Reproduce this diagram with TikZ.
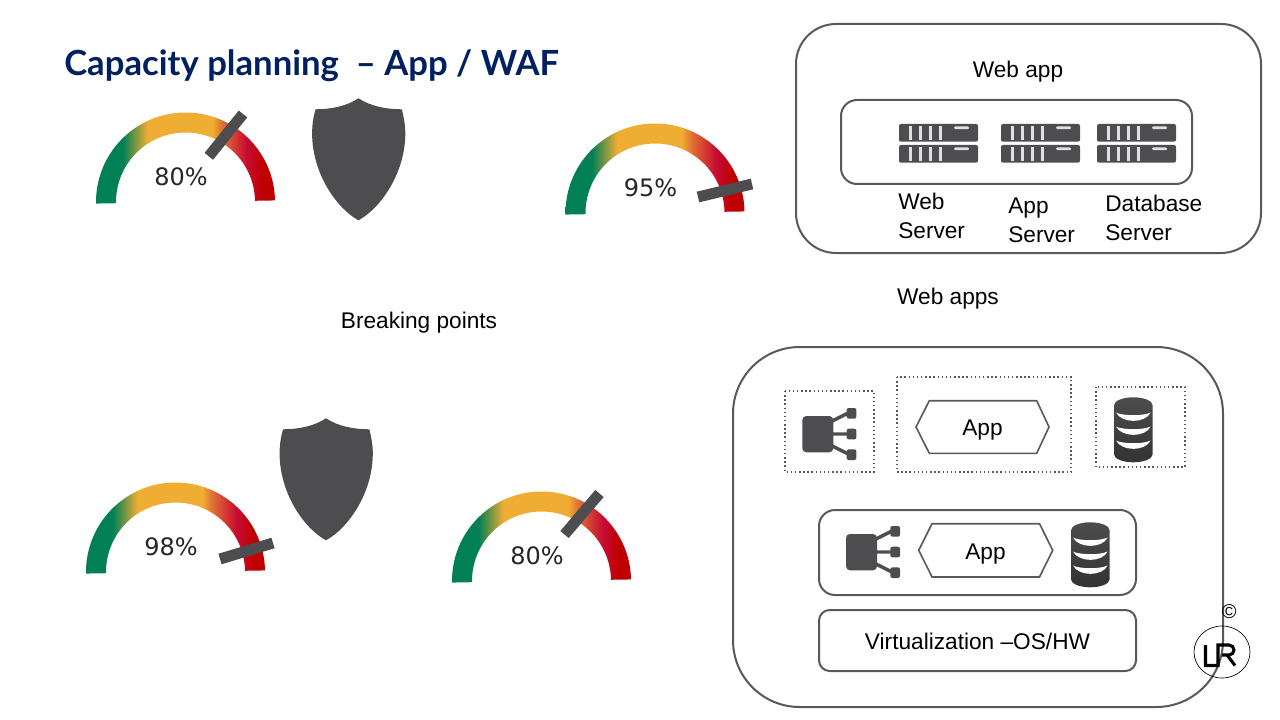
\documentclass[tikz,border=0pt]{standalone}
\usepackage{fontspec}
\setmainfont{Liberation Sans}
\newfontfamily\titlefont{Lato}
\newfontfamily\gaugefont{DejaVu Sans}
\usetikzlibrary{calc}
\definecolor{titleblue}{HTML}{002060}
\definecolor{icongrey}{HTML}{4D4D4F}
\definecolor{boxgrey}{HTML}{595959}
\pgfdeclarehorizontalshading{gaugeshade}{100bp}{
  rgb(0bp)=(0,0.5,0.33);
  rgb(32.5bp)=(0,0.5,0.33);
  rgb(39.5bp)=(0.94,0.68,0.2);
  rgb(57.5bp)=(0.94,0.68,0.2);
  rgb(60bp)=(0.88,0.45,0.2);
  rgb(67bp)=(0.78,0.04,0.2);
  rgb(71.5bp)=(0.75,0,0);
  rgb(100bp)=(0.75,0,0)}
\pgfdeclareverticalshading{dbshade}{100bp}{
  rgb(0bp)=(0.2,0.2,0.2);
  rgb(25bp)=(0.2,0.2,0.2);
  rgb(75bp)=(0.3,0.3,0.3);
  rgb(100bp)=(0.3,0.3,0.3)}
\tikzset{
  boxline/.style={draw=boxgrey, line width=1.5pt},
  dotbox/.style={draw=boxgrey, line width=1.1pt, dotted},
  hexline/.style={draw=boxgrey, line width=1.2pt},
  lbl/.style={font=\fontsize{17}{21.75}\selectfont, align=left, anchor=west, inner sep=0pt},
  ctr/.style={font=\fontsize{17}{20}\selectfont, inner sep=0pt},
  needle/.style={draw=icongrey, line width=8.2pt},
}
% gauge: centre x, centre y, needle inner and outer end, text
\newcommand{\gauge}[6]{
  \begin{scope}[shift={(#1,#2)}]
    \begin{scope}
      \clip (179:89.5) arc (179:359:89.5) -- (359:69.5) arc (359:179:69.5) -- cycle;
      \shade[shading=gaugeshade] (-90,-92) rectangle (90,3);
    \end{scope}
    \coordinate (#6a) at #3;
    \coordinate (#6b) at #4;
    \draw[needle] (#6a) -- (#6b);
    \node[font=\gaugefont\fontsize{18}{18}\selectfont, text=black!85, inner sep=0pt] (#6) at (-4.5,-25.5) {#5};
  \end{scope}
}
% shield from its top point
\newcommand{\shield}[2]{
  \fill[icongrey, shift={(#1,#2)}] (0,0) .. controls (12,8) and (28,11) .. (43.4,11)
    .. controls (45,18) and (46.8,26) .. (46.8,35) .. controls (46.8,75) and (22,110) .. (0,122)
    .. controls (-22,110) and (-46.4,75) .. (-46.4,35) .. controls (-46.4,26) and (-45,18) .. (-43,11)
    .. controls (-28,11) and (-12,8) .. (0,0) -- cycle;
}
% one server unit
\newcommand{\rackunit}[2]{
  \begin{scope}[shift={(#1,#2)}]
    \fill[icongrey, rounded corners=1.5pt] (0,0) rectangle (79,17.7);
    \foreach \sx in {9.5,19.5,29.5,39.5}
      \fill[black!12] (\sx,2) rectangle ++(3,13.7);
    \fill[black!12, rounded corners=0.9pt] (55,2.5) rectangle (70,5.2);
  \end{scope}
}
\newcommand{\server}[2]{\rackunit{#1}{#2}\rackunit{#1}{#2+21}}
% fan-out icon
\newcommand{\fanicon}[2]{
  \begin{scope}[shift={(#1,#2)}]
    \draw[icongrey, line width=2.6pt] (30,13) -- (46,5) (30,26) -- (46,26) (30,38) -- (46,46);
    \fill[icongrey, rounded corners=3pt] (0,8) rectangle (31,44.3);
    \foreach \sy in {0,20.7,41.3}
      \fill[icongrey, rounded corners=1.5pt] (44.4,\sy) rectangle ++(9.6,10.7);
  \end{scope}
}
% database cylinder
\newcommand{\dbicon}[2]{
  \begin{scope}[shift={(#1,#2)}]
    \shade[shading=dbshade] (0,8) arc (180:360:19.3 and 8) -- (38.6,57) arc (0:180:19.3 and 8) -- cycle;
    \foreach \sy in {15.3,29.3,43.3}
      \fill[white] (2,\sy) .. controls (10,\sy+3.5) and (28.6,\sy+3.5) .. (36.6,\sy)
        .. controls (31,\sy+11) and (8,\sy+11) .. (2,\sy) -- cycle;
  \end{scope}
}
\begin{document}
\begin{tikzpicture}[x=0.75pt, y=-0.75pt]
  \useasboundingbox (0,0) rectangle (1280,720);
  \fill[white] (0,0) rectangle (1280,720);

  % title
  \node[font=\titlefont\bfseries\fontsize{26}{26}\selectfont, text=titleblue, anchor=west, inner sep=0pt] (title) at (64,66) {Capacity planning\ \ – App / WAF};

  % gauges
  \gauge{185.5}{202}{(23.3,-45.7)}{(57.5,-88)}{80\%}{gaugeA}
  \gauge{655}{213}{(43,-16)}{(97,-29)}{95\%}{gaugeB}
  \gauge{175.5}{572}{(44.5,-13)}{(97.5,-29)}{98\%}{gaugeC}
  \gauge{541.5}{581}{(23,-46.5)}{(58,-87.5)}{80\%}{gaugeD}
  \shield{358.5}{98.3}
  \shield{326}{418.3}

  \node[ctr] (breaking) at (419,322.5) {Breaking points};

  % web app
  \draw[boxline, rounded corners=30pt] (796,24) rectangle (1261,253);
  \draw[boxline, rounded corners=12pt] (841,100) rectangle (1192,184);
  \node[ctr] (webapp) at (1018,71.5) {Web app};
  \server{899}{124}
  \server{1001}{124}
  \server{1097}{124}
  \node[lbl] (websrv) at (898,215.5) {Web\\Server};
  \node[lbl] (appsrv) at (1008,220) {App\\Server};
  \node[lbl] (dbsrv) at (1105,217.5) {Database\\Server};
  \node[ctr] (webapps) at (948,298.5) {Web apps};

  % bottom stack
  \draw[boxline, rounded corners=50pt] (733,347) rectangle (1223,707);
  \draw[dotbox] (785,391) rectangle (874,472);
  \draw[dotbox] (897,377) rectangle (1071,472);
  \draw[dotbox] (1096,387) rectangle (1185,467);
  \fanicon{802.3}{408}
  \draw[hexline] (916,427) -- (929.3,400.7) -- (1036.7,400.7) -- (1049,427) -- (1036.7,453.3) -- (929.3,453.3) -- cycle;
  \node[ctr] (appA) at (982.5,430.5) {App};
  \dbicon{1114}{397.3}

  \draw[boxline, rounded corners=12pt] (819,510) rectangle (1136,595);
  \fanicon{846}{526}
  \draw[hexline] (918.7,550.3) -- (932,523.7) -- (1039.5,523.7) -- (1052.7,550.3) -- (1039.5,577) -- (932,577) -- cycle;
  \node[ctr] (appB) at (985.5,554.5) {App};
  \dbicon{1071}{522.3}

  \draw[boxline, rounded corners=8pt] (819,610) rectangle (1136,671);
  \node[ctr] (virt) at (977.5,641) {Virtualization –OS/HW};

  % logo
  \draw[black, line width=0.5pt] (1222,652) ellipse (28 and 26);
  \node[font=\fontsize{15}{15}\selectfont, inner sep=0pt] (copy) at (1229.3,612) {\textcopyright};
  \draw[black, line width=2.3pt] (1205.5,645) -- (1205.5,665.5) -- (1218,665.5) -- (1218,645) -- (1229,645) arc (270:450:5) -- (1222,655) (1227,655) -- (1235,665.5);
\end{tikzpicture}
\end{document}
